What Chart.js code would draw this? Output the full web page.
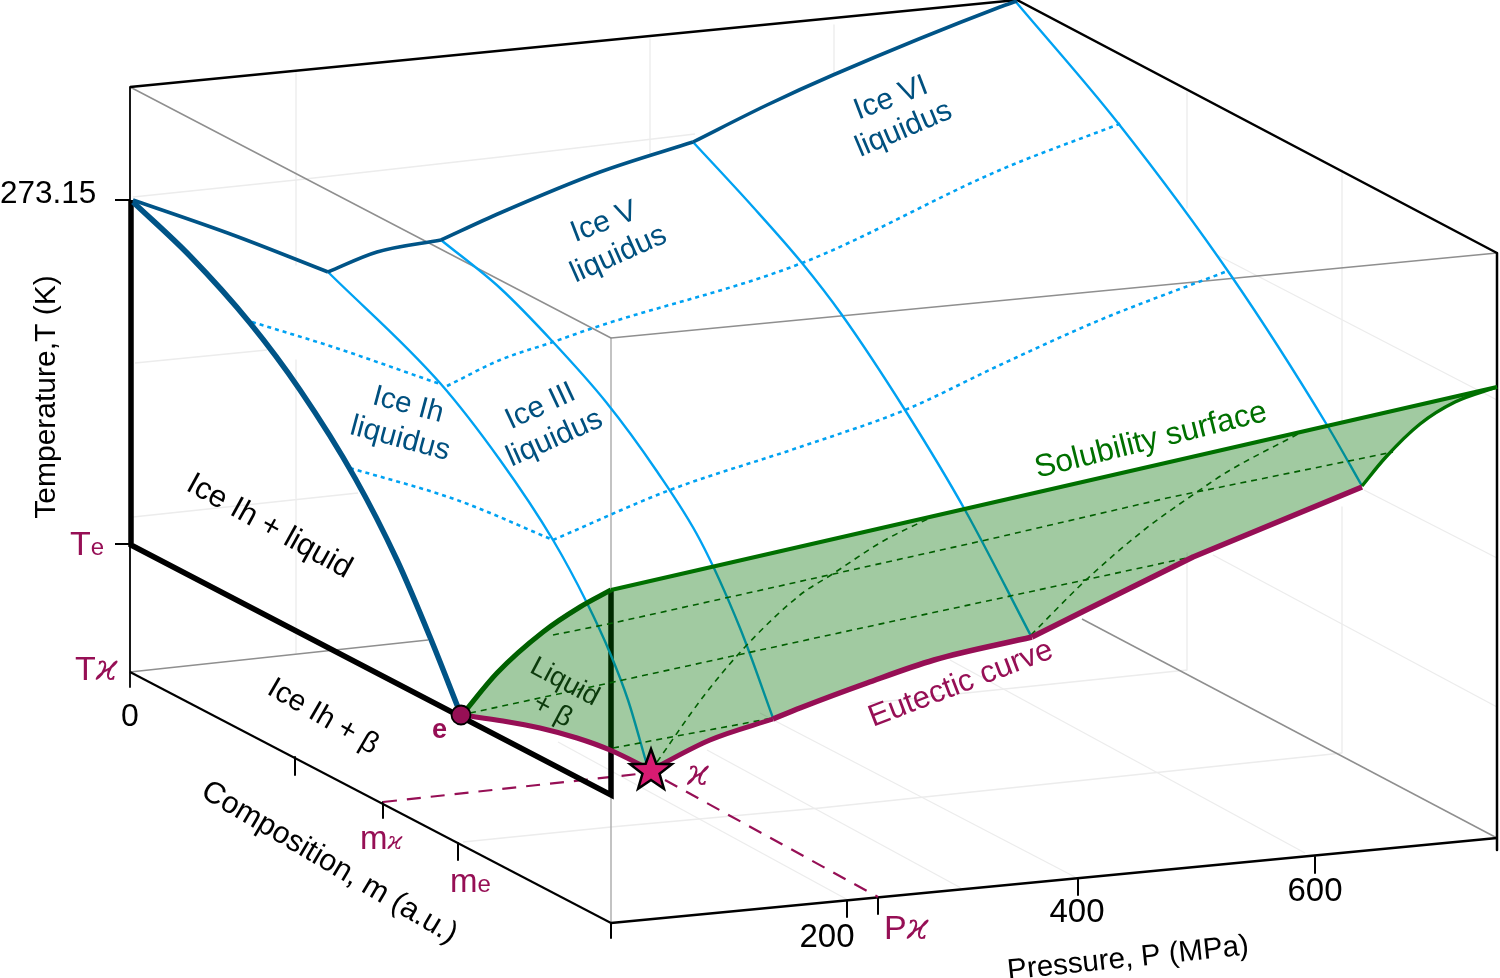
<!DOCTYPE html>
<html>
<head>
<meta charset="utf-8">
<style>html,body{margin:0;padding:0;background:#fff}canvas{display:block}</style>
<script src="https://cdn.jsdelivr.net/npm/chart.js@4/dist/chart.umd.min.js"></script>
</head>
<body>
<canvas id="c" width="1500" height="978"></canvas>
<script>
// Values, in picture units.
const boxTop = [[130,87],[1017,0],[1497,253],[1497,850]];
const boxLeft = [[130,87],[130,687]];
const floorFrontLeft = [[130,672],[611,923]];
const floorFrontRight = [[611,923],[1497,838]];
const tickZero = [[611,923],[611,938]];
const hiddenEdgeA = [[130,87],[611,338],[1497,253]];
const hiddenEdgeB = [[611,338],[611,923]];
const hiddenEdgeC = [[1082,619],[1497,838]];
const hiddenEdgeD = [[130,672],[428,640]];
const gridLines = [
  [[296,71],[296,265]], [[296,360],[296,653]],
  [[650,39],[650,153]], [[834,25],[834,73]],
  [[1187,92],[1187,208]], [[1342,170],[1342,423]],
  [[1342,507],[1342,753]], [[1187,553],[1187,670]],
  [[133,197],[296,180],[500,157],[695,134]],
  [[135,363],[267,350]], [[133,517],[358,493]],
  [[463,842],[611,827],[820,808],[1342,753]],
  [[870,703],[1187,670]],
  [[1217,255],[1497,400]], [[1364,490],[1497,558]], [[1213,555],[1497,707]],
  [[558,742],[848,900]], [[707,750],[961,888]], [[760,713],[1075,877]], [[950,660],[1305,853]]
];
const ticksT = [[[115,200],[130,200]], [[115,544],[130,544]]];
const ticksM = [[[295,757],[295,775]], [[383,802],[383,818]], [[458,843],[458,860]]];
const ticksP = [[[847,901],[847,917]], [[878,898],[878,914]], [[1078,878],[1078,895]], [[1315,857],[1315,873]]];
const binaryEdge = [[131,200],[131,545],[611,795],[611,590]];
const iceIhEdge = [[133,202],[190,256],[250,323],[300,390],[355,478],[397,560],[430,637],[459,710]];
const iceIhTop = [[133,200],[233,235],[328,272]];
const iceIIITop = [[328,272],[377,252],[441,240]];
const iceVTop = [[441,240],[500,213],[600,172],[693,142]];
const iceVITop = [[693,142],[767,105],[833,75],[1000,7],[1017,1]];
const boundaryA = [[328,272],[440,383],[500,460],[553,540],[587,603],[610,653],[628,700],[647,765]];
const boundaryB = [[441,240],[500,288],[553,342],[606,402],[656,470],[700,540],[740,628],[773,718]];
const boundaryC = [[693,142],[753,207],[802,263],[842,315],[905,410],[965,510],[1031,636]];
const boundaryD = [[1016,2],[1118,123],[1232,277],[1327,425],[1362,486]];
const isothermA1 = [[252,322],[333,347],[440,384]];
const isothermA2 = [[447,386],[500,360],[553,342],[593,328],[802,263],[1000,170],[1122,123]];
const isothermB1 = [[350,468],[457,500],[553,540]];
const isothermB2 = [[553,540],[670,490],[800,447],[905,410],[1000,365],[1100,320],[1225,272]];
const solubilityLeft = [[462,715],[497,673],[543,632],[580,607],[611,590]];
const solubilityTop = [[611,590],[1497,387]];
const solubilityRight = [[1362,486],[1385,458],[1420,424],[1455,402],[1497,387]];
const eutecticLeft = [[462,715],[503,721],[540,728],[577,738],[610,750],[651,770]];
const eutecticMid = [[651,770],[710,740],[773,719]];
const eutecticRight = [[773,719],[800,708],[867,683],[934,660],[1032,637]];
const eutecticFar = [[1032,637],[1082,612],[1193,557],[1362,487]];
const surfaceLineA = [[553,635],[613,623],[820,577],[986,540],[1167,498],[1393,452]];
const surfaceLineB = [[470,713],[600,685],[820,637],[1015,595],[1191,557]];
const surfaceLineC = [[613,748],[773,718]];
const surfaceCurveA = [[657,762],[703,697],[745,647],[800,595],[831,575],[885,540],[932,517]];
const surfaceCurveB = [[1031,635],[1086,580],[1144,530],[1197,492],[1227,472],[1300,433]];
const guideM = [[383,802],[647,773]];
const guideP = [[665,780],[878,897]];
const eutecticPoint = [[461,715]];
const kappaPoint = [[651,770]];

const ticksTLabel = "273.15";
const zeroLabel = "0";
const pressureTickLabels = ["200","400","600"];
const axisTitles = ["Temperature,T (K)","Composition, m (a.u.)","Pressure, P (MPa)"];
const kappa = "\u03F0";

const FONT = '"Liberation Sans", Arial, sans-serif';
const KFONT = '"Liberation Serif", "DejaVu Serif", serif';
const BLACK='#000', GRAY='#8f8f8f', LIGHT='#ececec', NAVY='#005487', SKY='#00a2f2', CRIM='#960f55', GREEN='#007000', DGREEN='#005f00', TEAL='#00507f';

const toPts = a => a.map(p => ({x:p[0], y:p[1]}));
function L(a, color, w, extra){
  return Object.assign({data:toPts(a), borderColor:color, borderWidth:w, pointRadius:0, tension:0, fill:false, borderJoinStyle:'round'}, extra||{});
}
const SMOOTH = {cubicInterpolationMode:'monotone'};
const DOT = {borderDash:[4,4]};
const DASH = {borderDash:[6,5]};

// five-pointed marker used as a Chart.js point style
const starImg = document.createElement('canvas');
starImg.width = 52; starImg.height = 52;
(function(){
  const g = starImg.getContext('2d');
  const R = 22, r = 9, cx = 26, cy = 27;
  g.beginPath();
  for(let i=0;i<10;i++){
    const rad = i%2 ? r : R, t = -Math.PI/2 + i*Math.PI/5;
    g[i?'lineTo':'moveTo'](cx+rad*Math.cos(t), cy+rad*Math.sin(t));
  }
  g.closePath();
  g.fillStyle='#d81b72'; g.fill();
  g.lineWidth=2.5; g.strokeStyle='#000'; g.lineJoin='miter'; g.stroke();
})();

// paint order: first is at the bottom
const paint = [];
gridLines.forEach(g => paint.push(L(g, LIGHT, 1.3)));
paint.push(L(hiddenEdgeB, '#b0b0b0', 1.5));
paint.push(L(hiddenEdgeA, GRAY, 1.5));
paint.push(L(hiddenEdgeC, GRAY, 1.5));
paint.push(L(hiddenEdgeD, GRAY, 1.5));
paint.push(L(boxLeft, BLACK, 1.8));
paint.push(L(boxTop, BLACK, 2.5));
paint.push(L(floorFrontLeft, BLACK, 2));
paint.push(L(floorFrontRight, BLACK, 2.5));
paint.push(L(tickZero, BLACK, 2));
ticksT.forEach(g => paint.push(L(g, BLACK, 2)));
ticksM.forEach(g => paint.push(L(g, BLACK, 2)));
ticksP.forEach(g => paint.push(L(g, BLACK, 2)));
paint.push(L(guideM, CRIM, 2.2, {borderDash:[14,10]}));
paint.push(L(guideP, CRIM, 2.2, {borderDash:[14,10]}));
paint.push(L(binaryEdge, BLACK, 5.5, {borderJoinStyle:'miter'}));
[isothermA1,isothermA2,isothermB1,isothermB2].forEach(g => paint.push(L(g, SKY, 2.6, Object.assign({},DOT,SMOOTH))));
[boundaryA,boundaryB,boundaryC,boundaryD].forEach(g => paint.push(L(g, SKY, 2.4, SMOOTH)));
paint.push(L(iceIhEdge, NAVY, 5.5, SMOOTH));
[iceIhTop,iceIIITop,iceVTop,iceVITop].forEach(g => paint.push(L(g, NAVY, 3.6, SMOOTH)));
// green surface: fill between its upper and lower outline
paint.push(L([...solubilityLeft, ...solubilityTop.slice(1)], 'rgba(0,0,0,0)', 0, {fill:'-1', backgroundColor:'rgba(0,112,0,0.37)'}));
paint.push(L([...eutecticLeft, ...eutecticMid.slice(1), ...eutecticRight.slice(1), ...eutecticFar.slice(1), ...solubilityRight.slice(1)], 'rgba(0,0,0,0)', 0));
[surfaceLineA,surfaceLineB,surfaceLineC].forEach(g => paint.push(L(g, DGREEN, 1.6, DASH)));
[surfaceCurveA,surfaceCurveB].forEach(g => paint.push(L(g, DGREEN, 1.6, Object.assign({},DASH,SMOOTH))));
paint.push(L(solubilityLeft, '#006000', 5, SMOOTH));
paint.push(L(solubilityTop, GREEN, 4));
paint.push(L(solubilityRight, GREEN, 3.4, SMOOTH));
paint.push(L(eutecticLeft, CRIM, 5, SMOOTH));
paint.push(L(eutecticMid, CRIM, 5, SMOOTH));
paint.push(L(eutecticRight, CRIM, 5.5, SMOOTH));
paint.push(L(eutecticFar, CRIM, 5.5));
paint.push({data:toPts(eutecticPoint), showLine:false, pointRadius:9.5, pointBackgroundColor:CRIM, pointBorderColor:'#000', pointBorderWidth:1.8});
paint.push({data:toPts(kappaPoint), showLine:false, pointRadius:26, pointStyle:starImg});

// Chart.js paints the last dataset first
const ordered = paint.slice().reverse();

const labelPlugin = {
  id:'labels',
  afterDatasetsDraw(chart){
    const {ctx, scales:{x:sx, y:sy}} = chart;
    const px = v => sx.getPixelForValue(v), py = v => sy.getPixelForValue(v);
    function seq(x, y, deg, parts, align){
      ctx.save();
      ctx.translate(px(x), py(y));
      ctx.rotate(deg*Math.PI/180);
      ctx.textBaseline='alphabetic'; ctx.textAlign='left';
      let total=0;
      parts.forEach(p=>{ctx.font=p.f; total+=ctx.measureText(p.t).width;});
      let cur = align==='center' ? -total/2 : 0;
      parts.forEach(p=>{
        ctx.font=p.f; ctx.fillStyle=p.c;
        ctx.fillText(p.t, cur, p.dy||0);
        cur+=ctx.measureText(p.t).width;
      });
      ctx.restore();
    }
    const T=(t,size,c,bold)=>({t,f:(bold?'bold ':'')+size+'px '+FONT,c});
    const K=(size,c)=>({t:kappa,f:'italic '+size+'px "DejaVu Serif", '+KFONT,c});
    const one=(x,y,deg,t,size,c,bold)=>seq(x,y,deg,[T(t,size,c,bold)],'center');

    // axes
    seq(0,203,0,[T(ticksTLabel,31.5,BLACK)],'left');
    one(130,726,0,zeroLabel,32,BLACK);
    one(827,947,0,pressureTickLabels[0],33,BLACK);
    one(1077,922,0,pressureTickLabels[1],33,BLACK);
    one(1315,901,0,pressureTickLabels[2],33,BLACK);
    one(55,397,-90,axisTitles[0],30,BLACK);
    one(325,870,30.5,axisTitles[1],30.5,BLACK);
    one(1129,967,-6,axisTitles[2],29.5,BLACK);
    // special values
    seq(70,555,0,[T('T',34,CRIM),{t:'e',f:'24px '+FONT,c:CRIM}],'left');
    seq(75,680,0,[T('T',34,CRIM),K(35,CRIM)],'left');
    seq(360,849,0,[T('m',33,CRIM),K(24,CRIM)],'left');
    seq(450,892,0,[T('m',33,CRIM),{t:'e',f:'24px '+FONT,c:CRIM}],'left');
    seq(884,939,0,[T('P',34,CRIM),K(35,CRIM)],'left');
    seq(687,785,0,[K(35,CRIM)],'left');
    seq(432,738,0,[T('e',27,CRIM,true)],'left');
    // region names
    one(265,534,29,'Ice Ih + liquid',31,BLACK);
    one(319,724,30,'Ice Ih + \u03B2',29.5,BLACK);
    one(406,413,15,'Ice Ih',29.5,TEAL);
    one(398,447,15,'liquidus',30,TEAL);
    one(544,414,-25,'Ice III',30,TEAL);
    one(558,446,-24,'liquidus',30,TEAL);
    one(607,230,-21,'Ice V',30,TEAL);
    one(622,262,-24,'liquidus',30,TEAL);
    one(894,106,-21,'Ice VI',30,TEAL);
    one(907,137,-23,'liquidus',30,TEAL);
    one(1153,449,-14,'Solubility surface',31.5,GREEN);
    one(964,692,-21,'Eutectic curve',31,CRIM);
    one(561,689,28,'Liquid',27.5,'#0c3a0c');
    one(549,718,28,'+ \u03B2',28,'#0c3a0c');
  }
};

new Chart(document.getElementById('c'), {
  type:'line',
  data:{datasets:ordered},
  options:{
    responsive:false, animation:false, devicePixelRatio:1,
    parsing:false, normalized:false,
    layout:{padding:0, autoPadding:false},
    events:[],
    plugins:{legend:{display:false}, tooltip:{enabled:false}, title:{display:false}},
    scales:{
      x:{type:'linear', min:0, max:1500, display:false},
      y:{type:'linear', min:0, max:978, reverse:true, display:false}
    }
  },
  plugins:[labelPlugin]
});
</script>
</body>
</html>
